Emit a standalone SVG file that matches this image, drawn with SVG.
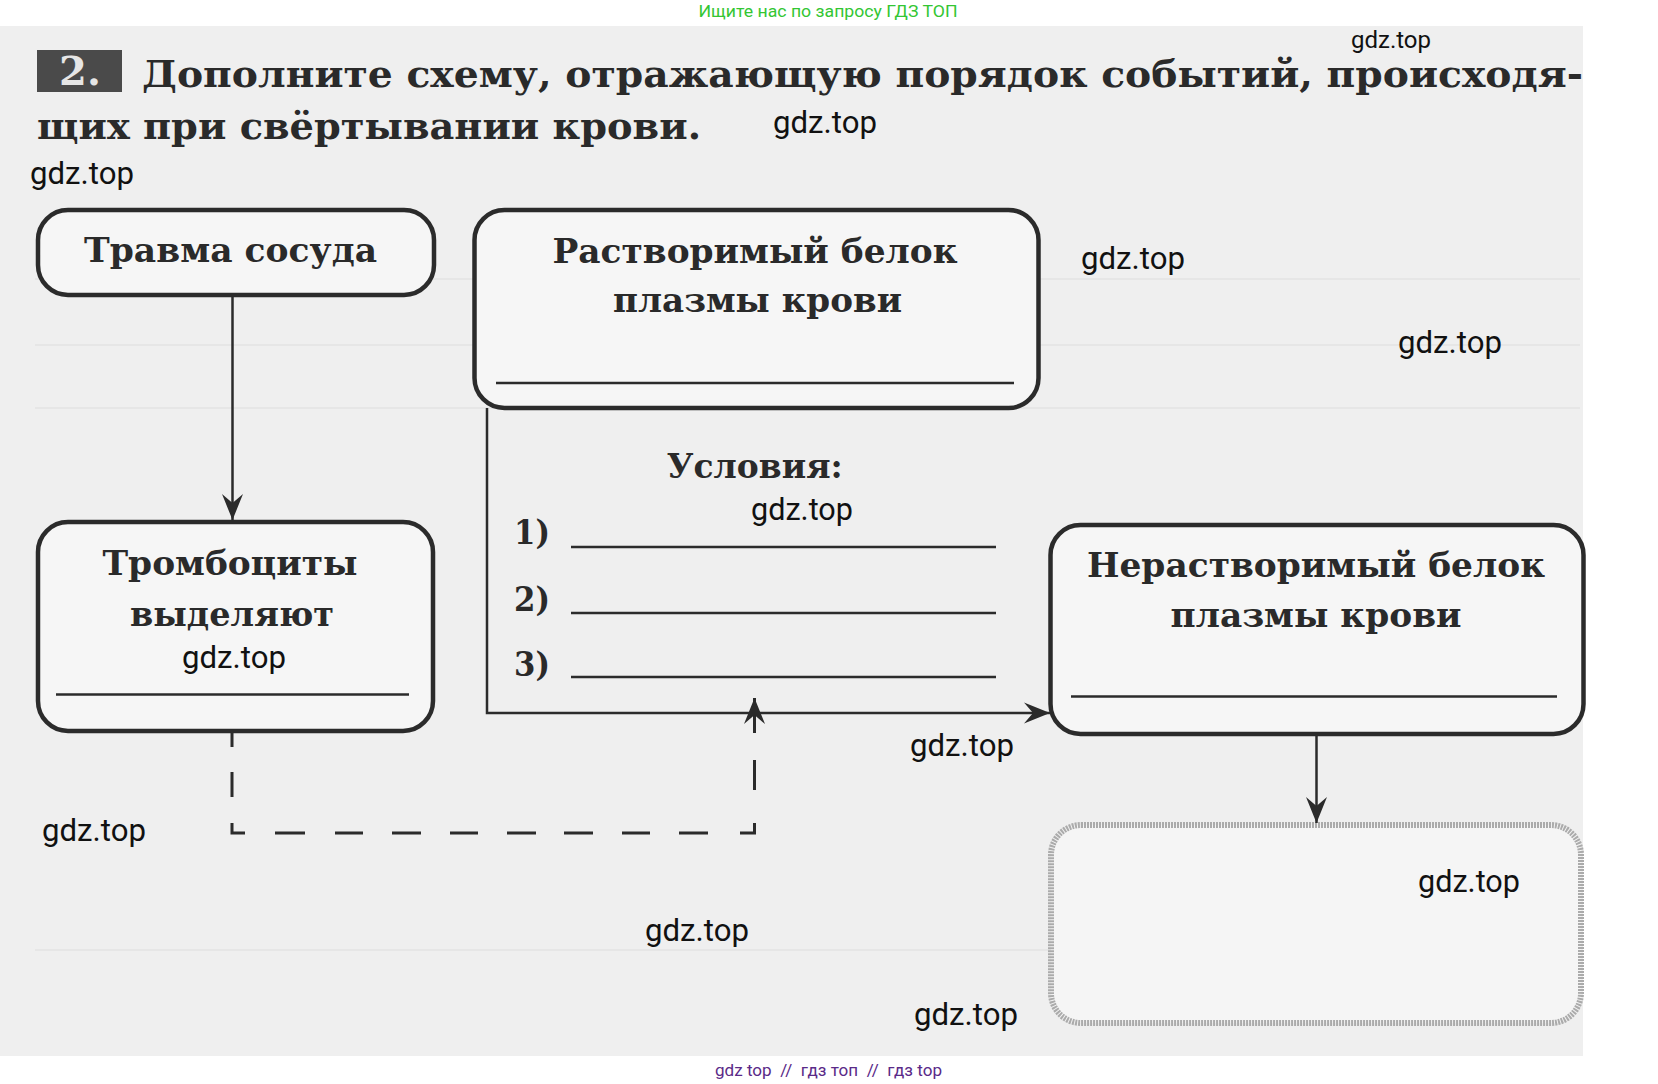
<svg xmlns="http://www.w3.org/2000/svg" width="1658" height="1084" viewBox="0 0 1658 1084">
<defs>
<style>
.box{fill:#f6f6f6;stroke:#2b2b2b;stroke-width:4.5}
.ghost{fill:#f5f5f5;stroke:#ababab;stroke-width:6;stroke-dasharray:2 1}
.bt{font-family:"DejaVu Serif","Liberation Serif",serif;font-weight:bold;font-size:34px;fill:#2a2a2a;text-anchor:middle}
.tt{font-family:"DejaVu Serif","Liberation Serif",serif;font-weight:bold;font-size:37px;fill:#2a2a2a}
.ul{stroke:#2b2b2b;stroke-width:2.5;fill:none}
.con{stroke:#2b2b2b;stroke-width:2.5;fill:none}
.dash{stroke:#2b2b2b;stroke-width:3;fill:none}
.wm{font-family:Roboto,"Liberation Sans",sans-serif;font-size:31px;fill:#111}
</style>
<marker id="ah" markerUnits="userSpaceOnUse" markerWidth="32" markerHeight="26" viewBox="-28 -13 30 26" refX="0" refY="0" orient="auto">
<path d="M0,0 L-26,-10.5 L-17,0 L-26,10.5 Z" fill="#2b2b2b"/>
</marker>
</defs>
<rect x="0" y="0" width="1658" height="1084" fill="#ffffff"/>
<rect x="0" y="26" width="1583" height="1030" fill="#efefef"/>
<g id="page-lines" stroke="#e6e6e6" stroke-width="2">
<line x1="35" y1="279" x2="1580" y2="279"/>
<line x1="35" y1="345" x2="1580" y2="345"/>
<line x1="35" y1="408" x2="1580" y2="408"/>
<line x1="35" y1="950" x2="1580" y2="950"/>
</g>

<g id="header">
<text x="828" y="17" text-anchor="middle" font-family="Roboto,'Liberation Sans',sans-serif" font-size="16.5" fill="#33c633" textLength="259" lengthAdjust="spacingAndGlyphs">Ищите нас по запросу ГДЗ ТОП</text>
</g>

<g id="title">
<rect x="37" y="50" width="85" height="42" fill="#4a4a4a"/>
<text x="80" y="85" text-anchor="middle" class="tt" style="fill:#e6e6e6;font-size:40px">2.</text>
<text x="142" y="87" class="tt" textLength="1441" lengthAdjust="spacingAndGlyphs">Дополните схему, отражающую порядок событий, происходя-</text>
<text x="37" y="139" class="tt" textLength="664" lengthAdjust="spacingAndGlyphs">щих при свёртывании крови.</text>
</g>

<g id="node-trauma">
<rect class="box" x="38" y="210" width="396" height="85" rx="30"/>
<text class="bt" x="230.5" y="261.5" textLength="293" lengthAdjust="spacingAndGlyphs">Травма сосуда</text>
</g>

<g id="node-platelets">
<rect class="box" x="38" y="522" width="395" height="209" rx="30"/>
<text class="bt" x="230" y="575" textLength="255" lengthAdjust="spacingAndGlyphs">Тромбоциты</text>
<text class="bt" x="232" y="626" textLength="204" lengthAdjust="spacingAndGlyphs">выделяют</text>
<line class="ul" x1="56" y1="694.5" x2="409" y2="694.5"/>
</g>

<g id="node-soluble">
<rect class="box" x="474.5" y="210" width="564" height="198" rx="30"/>
<text class="bt" x="755" y="263" textLength="405" lengthAdjust="spacingAndGlyphs">Растворимый белок</text>
<text class="bt" x="757.5" y="311.5" textLength="289" lengthAdjust="spacingAndGlyphs">плазмы крови</text>
<line class="ul" x1="496" y1="383" x2="1014" y2="383"/>
</g>

<g id="conditions">
<text class="bt" x="754.7" y="478" textLength="176" lengthAdjust="spacingAndGlyphs">Условия:</text>
<text class="bt" x="532" y="544" textLength="36" lengthAdjust="spacingAndGlyphs">1)</text>
<text class="bt" x="532" y="611" textLength="36" lengthAdjust="spacingAndGlyphs">2)</text>
<text class="bt" x="532" y="675.5" textLength="36" lengthAdjust="spacingAndGlyphs">3)</text>
<line class="ul" x1="571" y1="547" x2="996" y2="547"/>
<line class="ul" x1="571" y1="613" x2="996" y2="613"/>
<line class="ul" x1="571" y1="677" x2="996" y2="677"/>
</g>

<g id="node-insoluble">
<rect class="box" x="1050.5" y="525" width="533" height="209" rx="30"/>
<text class="bt" x="1316" y="577" textLength="458" lengthAdjust="spacingAndGlyphs">Нерастворимый белок</text>
<text class="bt" x="1316" y="627" textLength="291" lengthAdjust="spacingAndGlyphs">плазмы крови</text>
<line class="ul" x1="1071" y1="696.5" x2="1557" y2="696.5"/>
</g>

<g id="node-result">
<rect class="ghost" x="1051" y="825" width="530" height="198" rx="30"/>
</g>

<g id="connectors">
<path class="con" d="M232.5,297 V520" marker-end="url(#ah)"/>
<path class="con" d="M487,408 V713 H1050" marker-end="url(#ah)"/>
<path class="con" d="M1316.5,736 V823" marker-end="url(#ah)"/>
<path class="dash" d="M232,731 V747 M232,772 V797 M232,823 V833 H245 M275,833 H305 M335,833 H363 M392,833 H421 M450,833 H478 M507,833 H536 M564,833 H593 M622,833 H650 M679,833 H708 M740,833 H754.5 V823 M754.5,790 V760"/>
<path class="con" style="stroke-width:3" d="M754.5,733 V698" marker-end="url(#ah)"/>
</g>

<g id="watermarks">
<text class="wm" x="1351" y="48" style="font-size:24px" textLength="80" lengthAdjust="spacingAndGlyphs">gdz.top</text>
<text class="wm" x="773" y="133" textLength="104" lengthAdjust="spacingAndGlyphs">gdz.top</text>
<text class="wm" x="30" y="184" textLength="104" lengthAdjust="spacingAndGlyphs">gdz.top</text>
<text class="wm" x="1081" y="269" textLength="104" lengthAdjust="spacingAndGlyphs">gdz.top</text>
<text class="wm" x="1398" y="353" textLength="104" lengthAdjust="spacingAndGlyphs">gdz.top</text>
<text class="wm" x="751" y="520" textLength="102" lengthAdjust="spacingAndGlyphs">gdz.top</text>
<text class="wm" x="182" y="668" textLength="104" lengthAdjust="spacingAndGlyphs">gdz.top</text>
<text class="wm" x="910" y="756" textLength="104" lengthAdjust="spacingAndGlyphs">gdz.top</text>
<text class="wm" x="42" y="841" textLength="104" lengthAdjust="spacingAndGlyphs">gdz.top</text>
<text class="wm" x="645" y="941" textLength="104" lengthAdjust="spacingAndGlyphs">gdz.top</text>
<text class="wm" x="1418" y="892" textLength="102" lengthAdjust="spacingAndGlyphs">gdz.top</text>
<text class="wm" x="914" y="1025" textLength="104" lengthAdjust="spacingAndGlyphs">gdz.top</text>
</g>

<g id="footer">
<text x="715" y="1076" font-family="Roboto,'Liberation Sans',sans-serif" font-size="17" fill="#5a2a88" style="white-space:pre" textLength="227" lengthAdjust="spacingAndGlyphs">gdz top  //  гдз топ  //  гдз top</text>
</g>
</svg>
